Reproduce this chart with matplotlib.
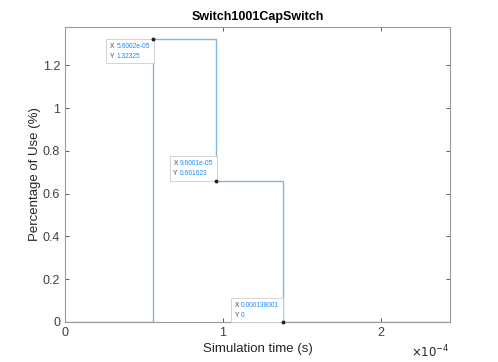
import numpy as np
import matplotlib.pyplot as plt

# step data (switch usage)
t = [0, 5.6002e-05, 5.6002e-05, 9.6001e-05, 9.6001e-05, 0.000138001, 0.000138001, 2.44e-4]
use = [0, 0, 1.32325, 1.32325, 0.661623, 0.661623, 0, 0]

# datatips
tip_x = [5.6002e-05, 9.6001e-05, 0.000138001]
tip_y = [1.32325, 0.661623, 0]
tip_xs = ['5.6002e-05', '9.6001e-05', '0.000138001']
tip_ys = ['1.32325', '0.661623', '0']
tip_va = ['top', 'bottom', 'bottom']

plt.rcParams['font.family'] = ['Liberation Sans', 'DejaVu Sans']

fig = plt.figure(figsize=(4.98, 3.62), dpi=100)
ax = fig.add_axes([0.1305, 0.1105, 0.773, 0.815])

ax.plot(t, use, color='#7db7e2', lw=1)
ax.plot(tip_x, tip_y, 'o', color='#222222', ms=1.8, zorder=8, clip_on=False)

ax.set_xlim(0, 2.44e-4)
ax.set_ylim(0, 1.38)
ax.set_xticks([0, 1e-4, 2e-4])
ax.set_xticklabels(['0', '1', '2'])
ax.set_yticks([0, 0.2, 0.4, 0.6, 0.8, 1, 1.2])
ax.set_yticklabels(['0', '0.2', '0.4', '0.6', '0.8', '1', '1.2'])
ax.tick_params(direction='in', length=3, width=0.6, colors='#404040',
               labelsize=9, top=True, right=True)
for s in ax.spines.values():
    s.set_color('#999999')
    s.set_linewidth(0.8)

ax.set_title('Switch1001CapSwitch', fontsize=9, fontweight='bold', pad=5)
ax.set_xlabel('Simulation time (s)', fontsize=9.5, color='#262626', labelpad=3)
ax.set_ylabel('Percentage of Use (%)', fontsize=9.5, color='#262626', labelpad=1)
ax.text(1.0, -0.1, r'$\times10^{-4}$', transform=ax.transAxes,
        ha='right', va='center', fontsize=8.5, color='#262626')

# datatip boxes: invisible full text gives the box, then labels and values on top
fig.canvas.draw()
r = fig.canvas.get_renderer()
for x, y, xs, ys, va in zip(tip_x, tip_y, tip_xs, tip_ys, tip_va):
    dy = -2.5 if va == 'top' else 2.5
    kw = dict(xytext=(-2.5, dy), textcoords='offset points', va=va, fontsize=4.8,
              linespacing=1.6, family='Liberation Sans')
    box = ax.annotate('X ' + xs + '\nY ' + ys, (x, y), ha='right', color='none',
                      bbox=dict(boxstyle='square,pad=0.55', fc='white',
                                ec='#cccccc', lw=0.6), zorder=6, **kw)
    ax.annotate(xs + '\n' + ys, (x, y), ha='right', multialignment='left',
                color='#1a8cff', zorder=7, **kw)
    w = box.get_window_extent(r).width * 72 / fig.dpi
    kw['xytext'] = (-2.5 - w, dy)
    ax.annotate('X\nY', (x, y), ha='left', color='#444444', zorder=7, **kw)

fig.savefig('out.png', dpi=100)
